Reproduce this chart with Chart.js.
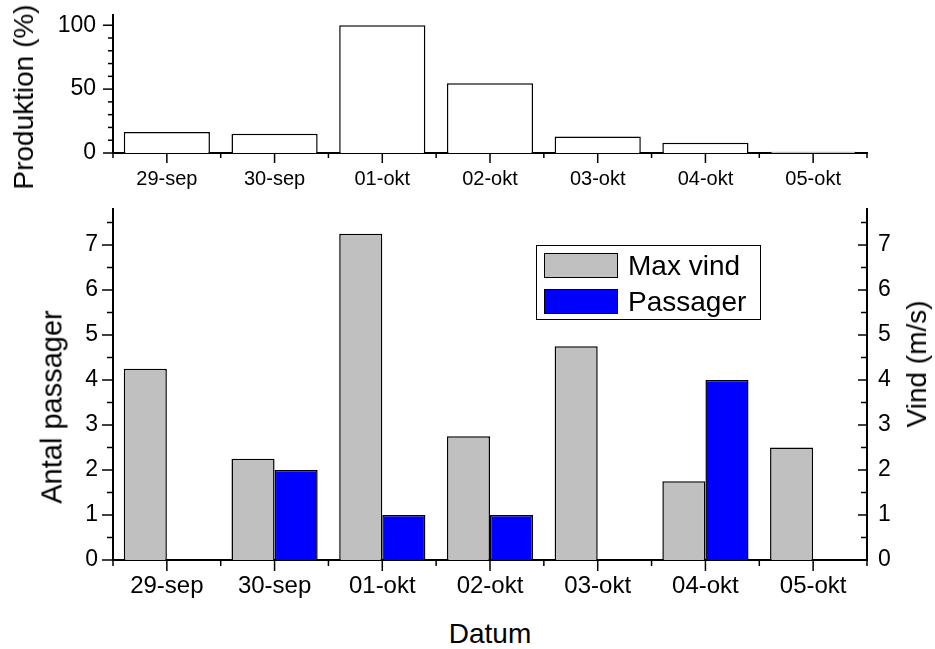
<!DOCTYPE html>
<html lang="sv">
<head>
    <meta charset="UTF-8">
    <title>Produktion, vind och passager</title>
    <style>
        body {
            margin: 0;
            padding: 0;
            background-color: #ffffff;
            font-family: 'Liberation Sans', Arial, sans-serif;
        }

        .page {
            position: relative;
            width: 935px;
            height: 649px;
            overflow: hidden;
        }

        canvas {
            position: absolute;
            left: 0;
        }

        #topChart { top: 0; }
        #bottomChart { top: 190px; }

        /* axeltitlar som vanlig text */
        .axis-title {
            position: absolute;
            font-size: 28px;
            line-height: 1;
            color: #000;
            white-space: nowrap;
            transform: translate(-50%, -50%);
        }

        .axis-title.rot {
            transform: translate(-50%, -50%) rotate(-90deg);
        }

        .legend {
            position: absolute;
            left: 536px;
            top: 245px;
            width: 225px;
            height: 75px;
            border: 1px solid #000;
            box-sizing: border-box;
        }

        .legend-item {
            position: absolute;
            left: 7px;
            height: 25px;
            display: flex;
            align-items: center;
            font-size: 28px;
            line-height: 1;
        }

        .legend-item .swatch {
            width: 72px;
            height: 23px;
            border: 1px solid #000;
            margin-right: 10px;
        }
    </style>
    <script src="https://cdn.jsdelivr.net/npm/chart.js"></script>
</head>
<body>
<div class="page">
    <canvas id="topChart" width="935" height="200"></canvas>
    <canvas id="bottomChart" width="935" height="420"></canvas>

    <div class="axis-title rot" style="left:24px; top:97px;">Produktion (%)</div>
    <div class="axis-title rot" style="left:52px; top:407px; font-size:29px;">Antal passager</div>
    <div class="axis-title rot" style="left:917px; top:364px;">Vind (m/s)</div>
    <div class="axis-title" style="left:490px; top:634px;">Datum</div>

    <div class="legend" id="legend"></div>
</div>

<script>
    // data
    const dates = ['29-sep', '30-sep', '01-okt', '02-okt', '03-okt', '04-okt', '05-okt'];
    const produktion = [16.5, 15, 100, 54.5, 13, 8, 1];
    const maxVind = [4.25, 2.25, 7.25, 2.75, 4.75, 1.75, 2.5];
    const passager = [0, 2, 1, 1, 0, 4, 0];

    const produktionTicks = [0, 50, 100];
    const antalTicks = [0, 1, 2, 3, 4, 5, 6, 7];
    const vindTicks = [0, 1, 2, 3, 4, 5, 6, 7];

    const FONT = "'Liberation Sans', Arial, sans-serif";

    // ritar huvud- och delstreck på axlarna via skalorna
    const axisTicks = {
        id: 'axisTicks',
        afterDraw(chart, args, opts) {
            const ctx = chart.ctx;
            ctx.save();
            ctx.strokeStyle = '#000';
            ctx.lineWidth = 1.5;
            (opts.axes || []).forEach(a => {
                const scale = chart.scales[a.id];
                let majors, minors = [];
                if (scale.type === 'category') {
                    majors = scale.ticks.map((t, i) => i);
                    for (let i = 0; i <= majors.length; i++) minors.push(i - 0.5);
                } else {
                    majors = scale.ticks.map(t => t.value);
                    const sub = (majors[1] - majors[0]) / a.minorCount;
                    for (let k = 0; k * sub <= scale.max + 1e-9; k++) {
                        if (k % a.minorCount !== 0) minors.push(k * sub);
                    }
                }
                const mark = (v, len) => {
                    const p = scale.getPixelForValue(v);
                    ctx.beginPath();
                    if (scale.isHorizontal()) {
                        ctx.moveTo(p, scale.top);
                        ctx.lineTo(p, scale.top + len);
                    } else {
                        const x0 = a.side === 'right' ? scale.left : scale.right;
                        ctx.moveTo(x0, p);
                        ctx.lineTo(x0 - len, p);
                    }
                    ctx.stroke();
                };
                majors.forEach(v => mark(v, a.major));
                minors.forEach(v => mark(v, a.minor));
            });
            ctx.restore();
        }
    };

    const blackBorder = { display: true, color: '#000', width: 2 };
    const noGrid = { display: false, drawTicks: false };

    // fast bredd på y-axlar, utan extra utfyllnad för etiketter
    const fixY = w => s => {
        s.width = w;
        s.paddingTop = 0;
        s.paddingBottom = 0;
    };

    // övre diagram: produktion
    new Chart(document.getElementById('topChart'), {
        type: 'bar',
        data: {
            labels: dates,
            datasets: [{
                label: 'Produktion',
                data: produktion,
                backgroundColor: '#ffffff',
                borderColor: '#000000',
                borderWidth: 1.5,
                categoryPercentage: 0.8,
                barPercentage: 1
            }]
        },
        options: {
            responsive: false,
            animation: false,
            layout: { padding: { top: 15, right: 68, left: 0, bottom: 0 } },
            scales: {
                x: {
                    grid: noGrid,
                    border: blackBorder,
                    ticks: {
                        color: '#000',
                        font: { family: FONT, size: 20 },
                        padding: 14,
                        maxRotation: 0,
                        autoSkip: false
                    },
                    afterFit: s => { s.height = 47; s.paddingLeft = 0; s.paddingRight = 0; }
                },
                y: {
                    min: 0,
                    max: 108,
                    grid: noGrid,
                    border: blackBorder,
                    afterBuildTicks: s => { s.ticks = produktionTicks.map(v => ({ value: v })); },
                    ticks: {
                        color: '#000',
                        font: { family: FONT, size: 23 },
                        padding: 17
                    },
                    afterFit: fixY(113)
                }
            },
            plugins: {
                legend: { display: false },
                tooltip: { enabled: false },
                axisTicks: {
                    axes: [
                        { id: 'x', major: 10, minor: 5 },
                        { id: 'y', major: 10, minor: 5, minorCount: 5 }
                    ]
                }
            }
        },
        plugins: [axisTicks]
    });

    // nedre diagram: max vind och passager
    const bottomChart = new Chart(document.getElementById('bottomChart'), {
        type: 'bar',
        data: {
            labels: dates,
            datasets: [
                {
                    label: 'Max vind',
                    data: maxVind,
                    yAxisID: 'y2',
                    backgroundColor: '#c0c0c0',
                    borderColor: '#000000',
                    borderWidth: 1.5,
                    categoryPercentage: 0.8,
                    barPercentage: 1
                },
                {
                    label: 'Passager',
                    data: passager,
                    yAxisID: 'y',
                    backgroundColor: '#0000ff',
                    borderColor: '#000000',
                    borderWidth: 1.5,
                    categoryPercentage: 0.8,
                    barPercentage: 1
                }
            ]
        },
        options: {
            responsive: false,
            animation: false,
            layout: { padding: { top: 19, right: 0, left: 0, bottom: 0 } },
            scales: {
                x: {
                    grid: noGrid,
                    border: blackBorder,
                    ticks: {
                        color: '#000',
                        font: { family: FONT, size: 24 },
                        padding: 12,
                        maxRotation: 0,
                        autoSkip: false
                    },
                    afterFit: s => { s.height = 50; s.paddingLeft = 0; s.paddingRight = 0; }
                },
                y: {
                    position: 'left',
                    min: 0,
                    max: 7.8,
                    grid: noGrid,
                    border: blackBorder,
                    afterBuildTicks: s => { s.ticks = antalTicks.map(v => ({ value: v })); },
                    ticks: {
                        color: '#000',
                        font: { family: FONT, size: 23 },
                        padding: 15
                    },
                    afterFit: fixY(113)
                },
                y2: {
                    position: 'right',
                    min: 0,
                    max: 7.8,
                    grid: noGrid,
                    border: blackBorder,
                    afterBuildTicks: s => { s.ticks = vindTicks.map(v => ({ value: v })); },
                    ticks: {
                        color: '#000',
                        font: { family: FONT, size: 23 },
                        padding: 11
                    },
                    afterFit: fixY(68)
                }
            },
            plugins: {
                legend: { display: false },
                tooltip: { enabled: false },
                axisTicks: {
                    axes: [
                        { id: 'x', major: 11, minor: 6 },
                        { id: 'y', major: 11, minor: 6, minorCount: 2 },
                        { id: 'y2', side: 'right', major: 9, minor: 6, minorCount: 2 }
                    ]
                }
            }
        },
        plugins: [axisTicks]
    });

    // legend i html, byggd från dataseten
    const legendBox = document.getElementById('legend');
    bottomChart.data.datasets.forEach((ds, i) => {
        const item = document.createElement('div');
        item.className = 'legend-item';
        item.style.top = (7 + i * 36) + 'px';
        const sw = document.createElement('span');
        sw.className = 'swatch';
        sw.style.backgroundColor = ds.backgroundColor;
        const txt = document.createElement('span');
        txt.textContent = ds.label;
        item.appendChild(sw);
        item.appendChild(txt);
        legendBox.appendChild(item);
    });
</script>
</body>
</html>
